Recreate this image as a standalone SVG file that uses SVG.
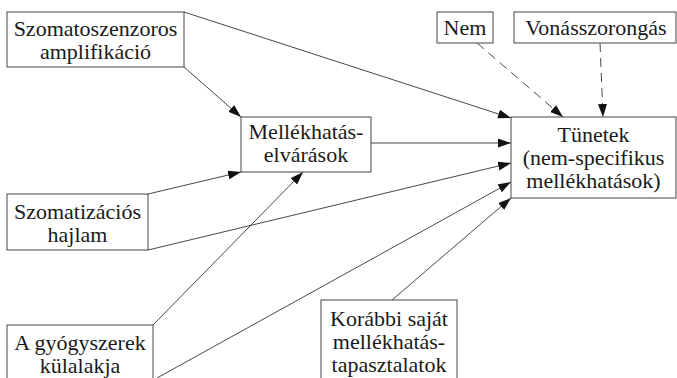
<svg xmlns="http://www.w3.org/2000/svg" width="677" height="378" viewBox="0 0 677 378">
<style>
.box{fill:#fff;stroke:#444;stroke-width:1}
.t{font-family:'Liberation Serif','Times New Roman',serif;font-size:22px;fill:#1a1a1a;text-anchor:middle}
.c{stroke:#333;stroke-width:0.9;fill:none;marker-end:url(#ah)}
.d{stroke-dasharray:9 6}
</style>
<defs>
<marker id="ah" markerUnits="userSpaceOnUse" markerWidth="14" markerHeight="10" refX="13" refY="4.5" orient="auto">
<path d="M0,0 L13,4.5 L0,9 z" fill="#111"/>
</marker>
</defs>
<g id="connectors">
<line class="c" x1="184" y1="12" x2="511" y2="118"/>
<line class="c" x1="184" y1="67" x2="241" y2="117"/>
<line class="c" x1="371" y1="143" x2="511" y2="143"/>
<line class="c" x1="148" y1="194" x2="241" y2="172"/>
<line class="c" x1="148" y1="250" x2="511" y2="163"/>
<line class="c" x1="153" y1="325" x2="303" y2="172"/>
<line class="c" x1="157" y1="378" x2="511" y2="182"/>
<line class="c" x1="392" y1="300" x2="511" y2="198"/>
<line class="c d" x1="477" y1="43" x2="563" y2="117"/>
<line class="c d" x1="600" y1="43" x2="603" y2="117"/>
</g>
<g id="n_szomatoszenzoros">
<rect class="box" x="7" y="12" width="177" height="55"/>
<text class="t" x="95.5" y="36">Szomatoszenzoros</text>
<text class="t" x="95.5" y="59">amplifikáció</text>
</g>
<g id="n_mellekhatas">
<rect class="box" x="241" y="117" width="130" height="55"/>
<text class="t" x="306" y="139">Mellékhatás-</text>
<text class="t" x="306" y="162">elvárások</text>
</g>
<g id="n_tunetek">
<rect class="box" x="511" y="117" width="165" height="81"/>
<text class="t" x="593.5" y="142">Tünetek</text>
<text class="t" x="593.5" y="165">(nem-specifikus</text>
<text class="t" x="593.5" y="188">mellékhatások)</text>
</g>
<g id="n_nem">
<rect class="box" x="437" y="12" width="56" height="31"/>
<text class="t" x="465" y="35">Nem</text>
</g>
<g id="n_vonas">
<rect class="box" x="514" y="12" width="162" height="31"/>
<text class="t" x="596" y="35">Vonásszorongás</text>
</g>
<g id="n_szomatizacios">
<rect class="box" x="7" y="194" width="141" height="56"/>
<text class="t" x="77.5" y="219">Szomatizációs</text>
<text class="t" x="77.5" y="242">hajlam</text>
</g>
<g id="n_gyogyszerek">
<rect class="box" x="7" y="325" width="146" height="60"/>
<text class="t" x="80" y="350">A gyógyszerek</text>
<text class="t" x="80" y="373">külalakja</text>
</g>
<g id="n_korabbi">
<rect class="box" x="321" y="300" width="136" height="85"/>
<text class="t" x="389" y="326">Korábbi saját</text>
<text class="t" x="389" y="349">mellékhatás-</text>
<text class="t" x="389" y="372">tapasztalatok</text>
</g>
</svg>
